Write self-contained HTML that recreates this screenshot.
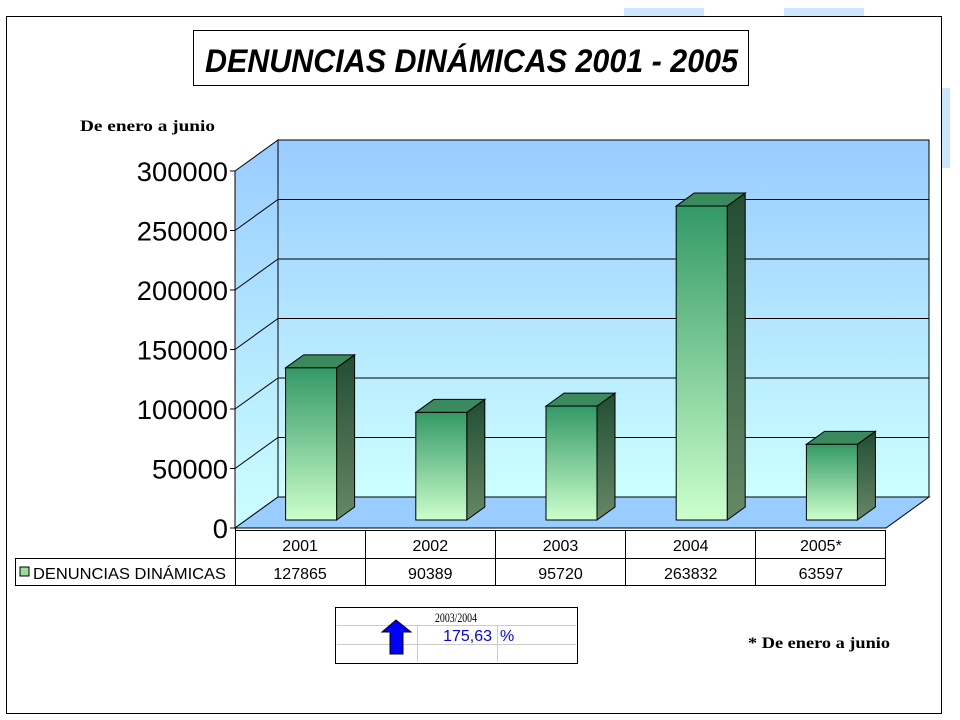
<!DOCTYPE html>
<html><head><meta charset="utf-8"><style>
body{margin:0;background:#fff;}
svg{display:block;font-family:"Liberation Sans",sans-serif;}
</style></head><body>
<svg width="960" height="720" viewBox="0 0 960 720">
<defs>
<linearGradient id="wall" x1="0" y1="0" x2="0" y2="1"><stop offset="0" stop-color="#99ccff"/><stop offset="1" stop-color="#ccffff"/></linearGradient>
<linearGradient id="front" x1="0" y1="0" x2="0" y2="1"><stop offset="0" stop-color="#339966"/><stop offset="1" stop-color="#ccffcc"/></linearGradient>
<linearGradient id="side" x1="0" y1="0" x2="0" y2="1"><stop offset="0" stop-color="#224d33"/><stop offset="1" stop-color="#668866"/></linearGradient>
</defs>
<rect x="624" y="8" width="80" height="9" fill="#cce6ff"/>
<rect x="784" y="8" width="80" height="9" fill="#cce6ff"/>
<rect x="942" y="88" width="8" height="80" fill="#cce6ff"/>
<rect x="6.5" y="16.5" width="935" height="697" fill="none" stroke="#000"/>
<rect x="193.5" y="30.5" width="555" height="55" fill="#fff" stroke="#000"/>
<text x="205" y="72" textLength="533" lengthAdjust="spacingAndGlyphs" font-size="32" font-weight="bold" font-style="italic">DENUNCIAS DINÁMICAS 2001 - 2005</text>
<text x="80" y="131" textLength="135" lengthAdjust="spacingAndGlyphs" font-family="Liberation Serif,serif" font-weight="bold" font-size="16">De enero a junio</text>
<g id="plot"></g>
<g stroke="#000" fill="none">
<line x1="235" y1="530.5" x2="886" y2="530.5"/>
<line x1="15" y1="558.5" x2="886" y2="558.5"/>
<line x1="15" y1="585.5" x2="886" y2="585.5"/>
<line x1="15.5" y1="558" x2="15.5" y2="586"/>
<line x1="235.5" y1="528" x2="235.5" y2="586"/>
<line x1="365.5" y1="530" x2="365.5" y2="586"/>
<line x1="495.5" y1="530" x2="495.5" y2="586"/>
<line x1="625.5" y1="530" x2="625.5" y2="586"/>
<line x1="755.5" y1="530" x2="755.5" y2="586"/>
<line x1="885.5" y1="530" x2="885.5" y2="586"/>
</g>
<rect x="20" y="567" width="9" height="9" fill="#99dd99" stroke="#000"/>
<text x="33" y="579" textLength="193" lengthAdjust="spacingAndGlyphs" font-size="16">DENUNCIAS DINÁMICAS</text>
<g id="tbl"></g>
<g>
<rect x="335.5" y="607.5" width="242" height="56" fill="#fff" stroke="#000"/>
<g stroke="#ccc"><line x1="337" y1="625.5" x2="576" y2="625.5"/><line x1="337" y1="644.5" x2="576" y2="644.5"/><line x1="417.5" y1="626" x2="417.5" y2="662"/><line x1="497.5" y1="626" x2="497.5" y2="662"/></g>
<text x="456" y="622" textLength="42" lengthAdjust="spacingAndGlyphs" text-anchor="middle" font-family="Liberation Serif,serif" font-size="13">2003/2004</text>
<polygon points="396,620 411,632 403,632 403,654 390,654 390,632 382,632" fill="#0000ff" stroke="#000"/>
<text x="492" y="641" text-anchor="end" font-size="16" fill="#0000ff">175,63</text>
<text x="500" y="641" font-size="16" fill="#0000ff">%</text>
</g>
<text x="748" y="648" textLength="142" lengthAdjust="spacingAndGlyphs" font-family="Liberation Serif,serif" font-weight="bold" font-size="16">* De enero a junio</text>
</svg>
<script>
const categories=["2001","2002","2003","2004","2005*"];
const values=[127865,90389,95720,263832,63597];
const tickValues=[0,50000,100000,150000,200000,250000,300000];
const NS="http://www.w3.org/2000/svg";
const plot=document.getElementById('plot');
const X0=235,X1=886,Y0=528,DX=43,DY=-31,VMAX=300000,H=357;
function y(v){return Y0-v/VMAX*H;}
function cx(i){return X0+(X1-X0)/5*(i+0.5);}
function mk(tag,a,p){const e=document.createElementNS(NS,tag);for(const k in a)e.setAttribute(k,a[k]);(p||plot).appendChild(e);return e;}
let w=mk('polygon',{points:`${X0+DX},${y(VMAX)+DY} ${X1+DX},${y(VMAX)+DY} ${X1+DX},${Y0+DY} ${X0+DX},${Y0+DY}`,fill:'url(#wall)',stroke:'#000'});

let lw=mk('polygon',{points:`${X0},${y(VMAX)} ${X0+DX},${y(VMAX)+DY} ${X0+DX},${Y0+DY} ${X0},${Y0}`,fill:'url(#wall)',stroke:'#000'});

let fl=mk('polygon',{points:`${X0},${Y0} ${X0+DX},${Y0+DY} ${X1+DX},${Y0+DY} ${X1},${Y0}`,fill:'#99ccff',stroke:'#000'});

tickValues.forEach(t=>{
  if(t>0&&t<VMAX){
    const g=mk('polyline',{points:`${X0},${y(t)} ${X0+DX},${y(t)+DY} ${X1+DX},${y(t)+DY}`,fill:'none',stroke:'#000'});
    
  }
  const tk=mk('line',{x1:X0-5,y1:y(t),x2:X0,y2:y(t),stroke:'#000'});
  
  const s=String(t);
  const tx=mk('text',{x:X0-7,y:y(t)+10,'text-anchor':'end','font-size':'27',textLength:String(s.length*15.2),lengthAdjust:'spacingAndGlyphs'});
  tx.textContent=s;
  
});
const BW=51,BD=18,BDY=-13,SX=11,SY=-8;
values.forEach((v,i)=>{
  const x=cx(i)+SX-BW/2, b=Y0+SY, t=b-v/VMAX*H;
  const g=mk('g',{});
  
  
  mk('polygon',{points:`${x+BW},${b} ${x+BW+BD},${b+BDY} ${x+BW+BD},${t+BDY} ${x+BW},${t}`,fill:'url(#side)',stroke:'#000'},g);
  mk('polygon',{points:`${x},${t} ${x+BD},${t+BDY} ${x+BW+BD},${t+BDY} ${x+BW},${t}`,fill:'#3a8a5e',stroke:'#000'},g);
  mk('rect',{x:x,y:t,width:BW,height:b-t,fill:'url(#front)',stroke:'#000'},g);
});
const tbl=document.getElementById('tbl');
categories.forEach((c,i)=>{
  const a=mk('text',{x:cx(i),y:551,'text-anchor':'middle','font-size':'16'},tbl);
  a.textContent=c;
  
  const b=mk('text',{x:cx(i),y:579,'text-anchor':'middle','font-size':'16'},tbl);
  b.textContent=values[i];
  
});
</script>
</body></html>
